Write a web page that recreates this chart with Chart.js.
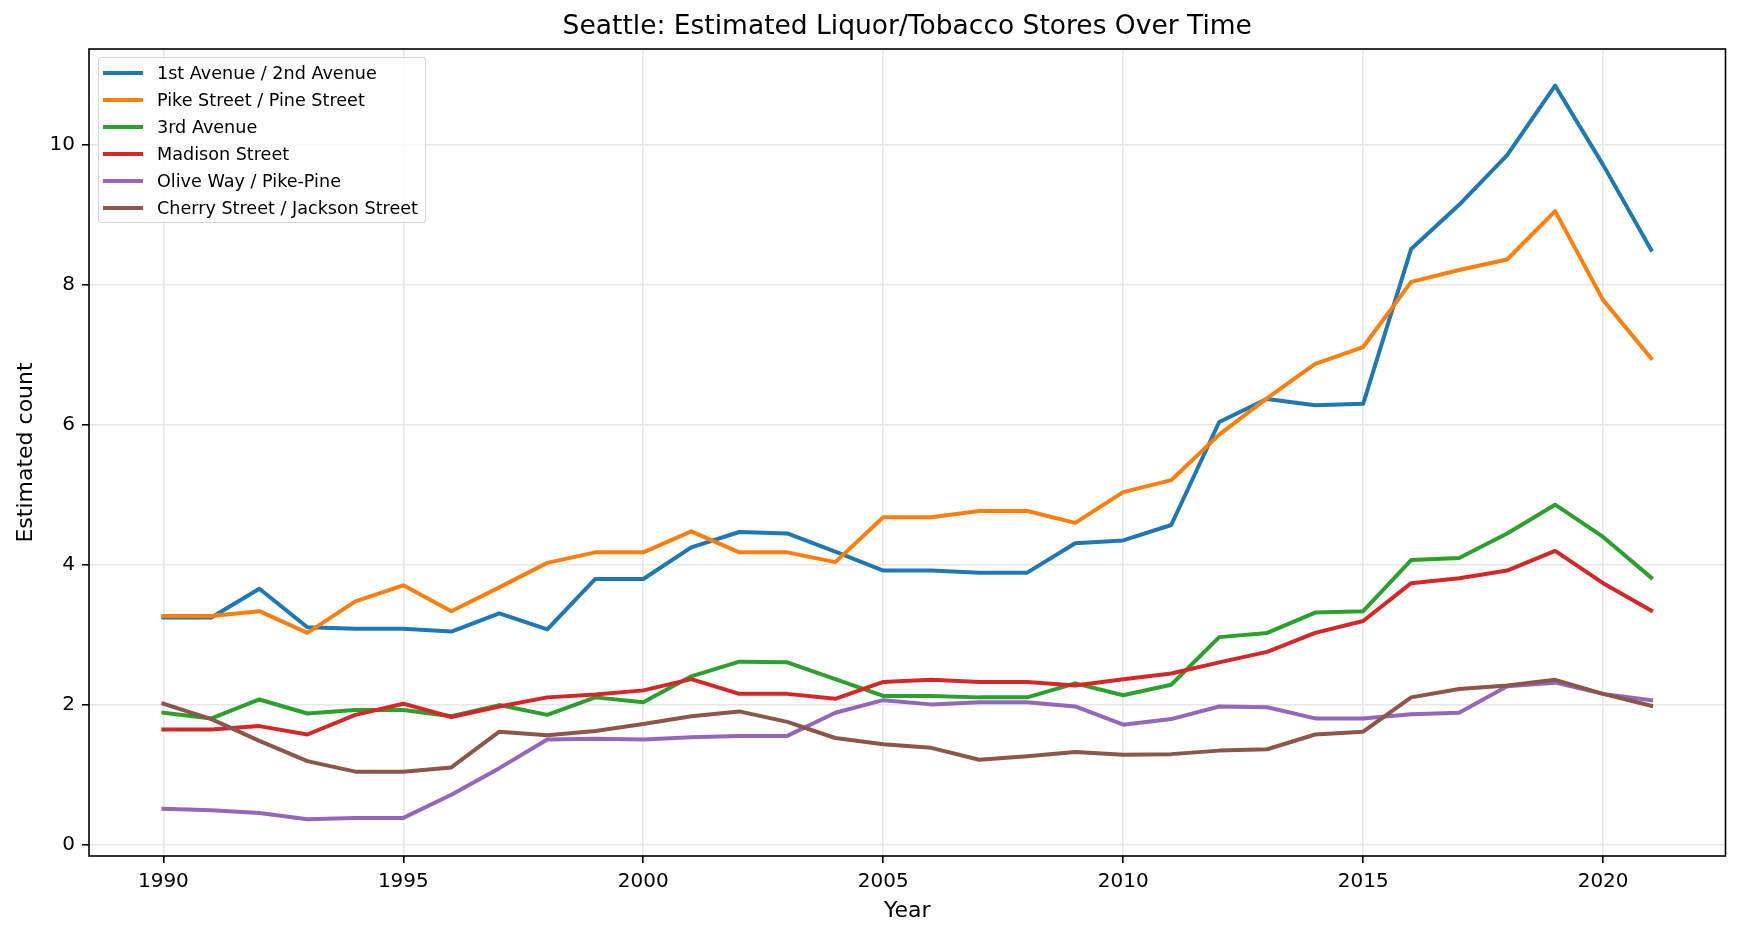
<!DOCTYPE html>
<html>
<head>
<meta charset="utf-8">
<script src="https://cdn.jsdelivr.net/npm/chart.js@4.4.0/dist/chart.umd.min.js"></script>
<style>
  body { margin: 0; background: #fff; }
  #wrap { position: relative; width: 1741px; height: 936px; }
  #legend {
    position: absolute; left: 98px; top: 57px; width: 328px; height: 166px;
    box-sizing: border-box; border: 1.6px solid rgba(204,204,204,0.8);
    border-radius: 3px; background: rgba(255,255,255,0.8);
    font-family: "DejaVu Sans", sans-serif; font-size: 17.6px; color: #000;
  }
  .row { position: absolute; left: 0; height: 20px; }
  .swatch { position: absolute; left: 4px; width: 40px; height: 4px; }
  .label { position: absolute; left: 58px; white-space: nowrap; line-height: 20px; top: 0; }
</style>
</head>
<body>
<div id="wrap">
  <canvas id="c" width="1741" height="936"></canvas>
  <div id="legend"></div>
</div>
<script>
// data
var years = [1990,1991,1992,1993,1994,1995,1996,1997,1998,1999,2000,2001,2002,2003,2004,2005,
             2006,2007,2008,2009,2010,2011,2012,2013,2014,2015,2016,2017,2018,2019,2020,2021];
var firstSecondAve = [3.25,3.25,3.66,3.11,3.09,3.09,3.05,3.31,3.08,3.80,3.80,4.25,4.47,4.45,4.19,3.92,
                      3.92,3.89,3.89,4.31,4.35,4.57,6.04,6.37,6.28,6.30,8.51,9.14,9.85,10.84,9.71,8.50];
var pikePine = [3.27,3.27,3.34,3.03,3.48,3.71,3.34,3.68,4.03,4.18,4.18,4.48,4.18,4.18,4.04,4.68,
                4.68,4.77,4.77,4.60,5.04,5.21,5.86,6.38,6.87,7.11,8.04,8.21,8.36,9.05,7.78,6.95];
var thirdAve = [1.89,1.81,2.08,1.88,1.93,1.93,1.84,2.00,1.86,2.11,2.04,2.41,2.62,2.61,2.37,2.13,
                2.13,2.11,2.11,2.31,2.14,2.29,2.97,3.03,3.32,3.34,4.07,4.10,4.45,4.86,4.40,3.82];
var madison = [1.65,1.65,1.70,1.58,1.86,2.02,1.83,1.98,2.11,2.15,2.21,2.37,2.16,2.16,2.09,2.33,
               2.36,2.33,2.33,2.28,2.37,2.45,2.61,2.76,3.03,3.20,3.74,3.81,3.92,4.20,3.74,3.35];
var oliveWay = [0.52,0.50,0.46,0.37,0.39,0.39,0.72,1.10,1.51,1.52,1.51,1.54,1.56,1.56,1.89,2.07,
                2.01,2.04,2.04,1.98,1.72,1.80,1.98,1.97,1.81,1.81,1.87,1.89,2.27,2.32,2.16,2.07];
var cherryJackson = [2.02,1.80,1.49,1.20,1.05,1.05,1.11,1.62,1.57,1.63,1.73,1.84,1.91,1.76,1.53,1.44,
                     1.39,1.22,1.27,1.33,1.29,1.30,1.35,1.37,1.58,1.62,2.11,2.23,2.28,2.36,2.16,1.99];

var seriesNames = ['1st Avenue / 2nd Avenue','Pike Street / Pine Street','3rd Avenue',
                   'Madison Street','Olive Way / Pike-Pine','Cherry Street / Jackson Street'];
var seriesValues = [firstSecondAve, pikePine, thirdAve, madison, oliveWay, cherryJackson];
var colors = ['#1f77b4','#ff7f0e','#2ca02c','#d62728','#9467bd','#8c564b'];
var xTicks = [1990,1995,2000,2005,2010,2015,2020];
var yTicks = [0,2,4,6,8,10];

var FONT = 'DejaVu Sans';
Chart.defaults.font.family = FONT;
Chart.defaults.color = '#000';

var datasets = seriesValues.map(function(vals, i){
  return {
    label: seriesNames[i],
    data: years.map(function(y, j){ return {x: y, y: vals[j]}; }),
    borderColor: colors[i],
    backgroundColor: colors[i],
    borderWidth: 4,
    pointRadius: 0,
    tension: 0,
    borderJoinStyle: 'round',
    borderCapStyle: 'square',
    order: seriesValues.length - i   // later series on top, like matplotlib
  };
});

// axes frame on all four sides
var frame = {
  id: 'frame',
  afterDatasetsDraw: function(chart){
    var a = chart.chartArea, ctx = chart.ctx;
    ctx.save();
    ctx.strokeStyle = '#000';
    ctx.lineWidth = 1.6;
    ctx.strokeRect(a.left, a.top, a.right - a.left, a.bottom - a.top);
    ctx.restore();
  }
};

var gridOpts = {
  color: '#e7e7e7', lineWidth: 1.6,
  drawTicks: true, tickLength: 7, tickColor: '#000', tickWidth: 1.6
};

new Chart(document.getElementById('c').getContext('2d'), {
  type: 'line',
  data: { datasets: datasets },
  plugins: [frame],
  options: {
    responsive: false,
    animation: false,
    devicePixelRatio: 1,
    layout: { padding: { left: 0, right: 15.5, top: 0, bottom: 0 } },
    plugins: {
      legend: { display: false },
      tooltip: { enabled: false },
      title: {
        display: true,
        fullSize: false,   // centre over the plot area
        text: 'Seattle: Estimated Liquor/Tobacco Stores Over Time',
        color: '#000',
        font: { size: 26.5, weight: 'normal', family: FONT },
        padding: { top: 11.6, bottom: 5.6 }
      }
    },
    scales: {
      x: {
        type: 'linear',
        min: 1988.45, max: 2022.55,
        grid: gridOpts,
        border: { display: false },
        afterBuildTicks: function(s){ s.ticks = xTicks.map(function(v){ return {value: v}; }); },
        afterFit: function(s){ s.height = 80; },
        ticks: {
          padding: 7, color: '#000', font: { size: 20 }, maxRotation: 0,
          callback: function(v){ return String(v); }
        },
        title: {
          display: true, text: 'Year', color: '#000',
          font: { size: 22, family: FONT }, padding: { top: 0, bottom: 11.6 }
        }
      },
      y: {
        type: 'linear',
        min: -0.154, max: 11.364,
        grid: gridOpts,
        border: { display: false },
        afterBuildTicks: function(s){ s.ticks = yTicks.map(function(v){ return {value: v}; }); },
        afterFit: function(s){ s.width = 89; },
        ticks: {
          padding: 7, color: '#000', font: { size: 20 },
          callback: function(v){ return String(v); }
        },
        title: {
          display: true, text: 'Estimated count', color: '#000',
          font: { size: 22, family: FONT }, padding: { top: 12.8, bottom: 0 }
        }
      }
    }
  }
});

// legend inside the axes, top-left, like matplotlib
var legend = document.getElementById('legend');
datasets.forEach(function(ds, i){
  var row = document.createElement('div');
  row.className = 'row';
  row.style.top = (5 + i * 26.9) + 'px';
  row.style.width = '100%';
  var sw = document.createElement('div');
  sw.className = 'swatch';
  sw.style.background = ds.borderColor;
  sw.style.top = '8px';
  var lb = document.createElement('div');
  lb.className = 'label';
  lb.textContent = ds.label;
  row.appendChild(sw);
  row.appendChild(lb);
  legend.appendChild(row);
});
</script>
</body>
</html>
